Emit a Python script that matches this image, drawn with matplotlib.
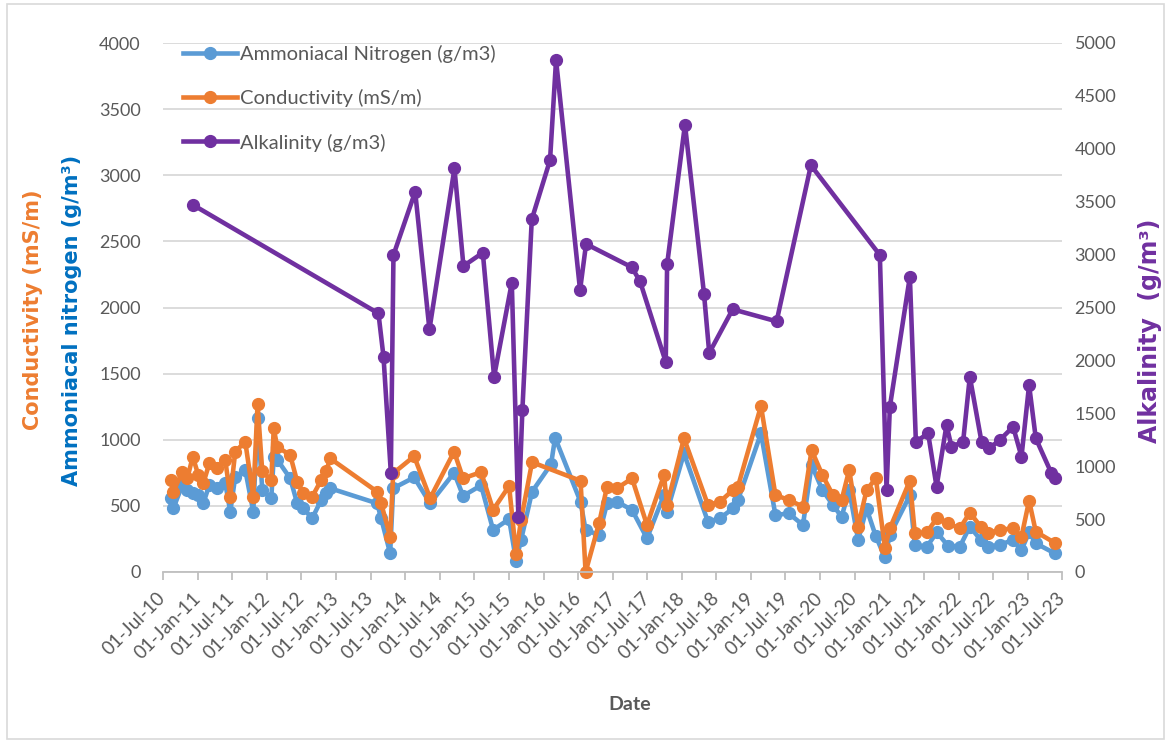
import numpy as np
import pandas as pd
import matplotlib
matplotlib.use("Agg")
import matplotlib.pyplot as plt
import matplotlib.dates as mdates
from matplotlib.patches import Rectangle

plt.rcParams['font.family'] = ['Lato', 'DejaVu Sans']

# sampling dates (decimal years) for ammoniacal nitrogen / conductivity
wq_years = [2010.61, 2010.645, 2010.775, 2010.847, 2010.926, 2011.006, 2011.078, 2011.165,
            2011.276, 2011.396, 2011.468, 2011.54, 2011.685, 2011.801, 2011.863, 2011.931,
            2012.061, 2012.097, 2012.147, 2012.335, 2012.436, 2012.523, 2012.653, 2012.783,
            2012.855, 2012.913, 2013.592, 2013.65, 2013.78, 2013.824, 2014.127, 2014.358,
            2014.705, 2014.835, 2015.095, 2015.269, 2015.5, 2015.601, 2015.673, 2015.832,
            2016.107, 2016.165, 2016.533, 2016.606, 2016.801, 2016.916, 2017.061, 2017.278,
            2017.494, 2017.74, 2017.783, 2018.029, 2018.376, 2018.549, 2018.737, 2018.809,
            2019.142, 2019.351, 2019.546, 2019.749, 2019.874, 2020.03, 2020.182, 2020.308,
            2020.418, 2020.547, 2020.669, 2020.803, 2020.934, 2021.006, 2021.295, 2021.367,
            2021.54, 2021.685, 2021.844, 2022.017, 2022.162, 2022.321, 2022.422, 2022.595,
            2022.783, 2022.909, 2023.019, 2023.116, 2023.39]
ammonia = [557, 481, 658, 620, 597, 580, 519, 658, 633, 673, 456, 720, 771, 456, 1162, 620,
           557, 870, 850, 708, 519, 481, 406, 544, 600, 633, 519, 406, 141, 633, 715, 519,
           750, 575, 655, 318, 400, 85, 242, 607, 815, 1015, 531, 318, 280, 519, 531, 469,
           255, 582, 456, 897, 380, 406, 481, 544, 1049, 431, 443, 355, 809, 620, 506, 418,
           620, 242, 480, 270, 111, 280, 580, 204, 191, 300, 200, 191, 343, 242, 191, 205,
           242, 166, 300, 217, 141]
conductivity = [695, 607, 758, 708, 872, 733, 670, 821, 784, 847, 569, 910, 985, 569, 1270, 760,
                695, 1086, 947, 884, 683, 595, 569, 695, 760, 859, 607, 519, 267, 746, 875, 557,
                910, 708, 755, 470, 650, 135, 393, 830, np.nan, np.nan, 690, 0, 368, 645, 633, 708,
                355, 733, 506, 1011, 506, 531, 620, 645, 1255, 582, 544, 494, 922, 733, 582, 544,
                771, 343, 620, 708, 185, 330, 690, 293, 300, 406, 368, 330, 448, 343, 293, 318,
                330, 267, 539, 305, 220]

# alkalinity sampling dates (decimal years) and values
alk_years = [2010.934, 2013.611, 2013.684, 2013.79, 2013.828, 2014.142, 2014.348, 2014.71,
             2014.84, 2015.12, 2015.283, 2015.539, 2015.634, 2015.692, 2015.828, 2016.092,
             2016.179, 2016.526, 2016.613, 2017.273, 2017.393, 2017.765, 2017.785, 2018.043,
             2018.318, 2018.394, 2018.733, 2019.368, 2019.864, 2020.861, 2020.958, 2021.006,
             2021.295, 2021.382, 2021.559, 2021.681, 2021.825, 2021.897, 2022.065, 2022.162,
             2022.331, 2022.441, 2022.595, 2022.788, 2022.909, 2023.019, 2023.116, 2023.343,
             2023.39]
alkalinity = [3468, 2444, 2035, 939, 2996, 3594, 2293, 3815, 2892, 3018, 1846, 2734, 523, 1531,
              3333, 3893, 4840, 2665, 3100, 2881, 2748, 1985, 2908, 4229, 2632, 2070, 2483, 2369,
              3844, 2996, 775, 1562, 2791, 1231, 1311, 806, 1389, 1184, 1231, 1846, 1231, 1169,
              1247, 1373, 1090, 1767, 1263, 932, 885]

BLUE = '#5B9BD5'
ORANGE = '#ED7D31'
PURPLE = '#7030A0'
GRID = '#D9D9D9'
TEXT = '#595959'


def to_dates(years):
    years = np.asarray(years, dtype=float)
    return pd.Timestamp('2010-01-01') + pd.to_timedelta((years - 2010) * 365.25, unit='D')


wq_dates = to_dates(wq_years)
alk_dates = to_dates(alk_years)
cond = np.array(conductivity, dtype=float)
ok = ~np.isnan(cond)

fig = plt.figure(figsize=(11.71, 7.42), dpi=100)
ax = fig.add_axes([163 / 1171, 1 - 572 / 742, 899 / 1171, 529 / 742])
ax2 = ax.twinx()

style = dict(lw=3.3, marker='o', ms=8.5, clip_on=False)
l1, = ax.plot(wq_dates, ammonia, color=BLUE, label='Ammoniacal Nitrogen (g/m3)', **style)
l2, = ax.plot(wq_dates[ok], cond[ok], color=ORANGE, label='Conductivity (mS/m)', **style)
l3, = ax2.plot(alk_dates, alkalinity, color=PURPLE, label='Alkalinity (g/m3)', **style)

ax.set_ylim(0, 4000)
ax.set_yticks(range(0, 4001, 500))
ax2.set_ylim(0, 5000)
ax2.set_yticks(range(0, 5001, 500))
ax.yaxis.grid(True, color=GRID, lw=1.3)
ax.set_axisbelow(True)

ax.set_xlim(pd.Timestamp('2010-07-01'), pd.Timestamp('2023-07-01'))
ax.xaxis.set_major_locator(mdates.MonthLocator(bymonth=[1, 7]))
ax.xaxis.set_major_formatter(mdates.DateFormatter('%d-%b-%y'))

for a in (ax, ax2):
    for s in a.spines.values():
        s.set_visible(False)
ax.spines['bottom'].set_visible(True)
ax.spines['bottom'].set_color('#BFBFBF')
ax.spines['bottom'].set_linewidth(1.3)

ax.tick_params(axis='y', length=0, pad=16, labelsize=13, labelcolor=TEXT)
ax2.tick_params(axis='y', length=0, pad=9, labelsize=13, labelcolor=TEXT)
ax.tick_params(axis='x', length=6, width=1.3, color='#BFBFBF', pad=11,
               labelsize=13.5, labelcolor=TEXT)
for lab in ax.get_xticklabels():
    lab.set_rotation(45)
    lab.set_ha('right')
    lab.set_va('center')
    lab.set_rotation_mode('anchor')

fig.text(33 / 1171, 1 - 310 / 742, 'Conductivity (mS/m)', rotation=90, color=ORANGE,
         fontsize=15, fontweight='bold', ha='center', va='center', family=['DejaVu Sans'])
fig.text(72 / 1171, 1 - 320 / 742, 'Ammoniacal nitrogen (g/m³)', rotation=90, color='#0070C0',
         fontsize=15, fontweight='bold', ha='center', va='center', family=['DejaVu Sans'])
fig.text(1150 / 1171, 1 - 331 / 742, 'Alkalinity  (g/m³)', rotation=90, color=PURPLE,
         fontsize=17, fontweight='bold', ha='center', va='center', family=['DejaVu Sans'])
fig.text(630 / 1171, 1 - 705 / 742, 'Date', color=TEXT, fontsize=14, fontweight='bold',
         ha='center', va='center')

ax2.legend([l1, l2, l3], [l1.get_label(), l2.get_label(), l3.get_label()],
           loc='upper left', bbox_to_anchor=(183 / 1171, 1 - 45 / 742),
           bbox_transform=fig.transFigure, frameon=False, fontsize=14.5,
           handlelength=2.7, handletextpad=0.15, labelspacing=1.3,
           borderaxespad=0, borderpad=0, labelcolor=TEXT)

fig.patches.append(Rectangle((0.006, 0.004), 0.988, 0.99, transform=fig.transFigure,
                             fill=False, edgecolor=GRID, lw=1.2))

fig.savefig('out.png', dpi=100)
